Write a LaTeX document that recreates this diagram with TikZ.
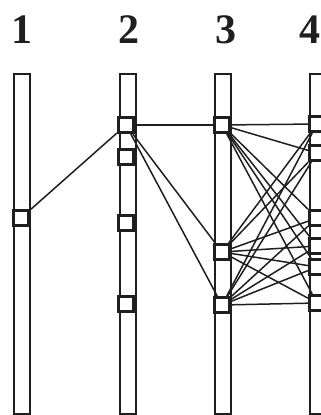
\documentclass[tikz,border=0pt]{standalone}
\usepackage{fontspec}
\setmainfont{Liberation Serif}
\begin{document}
\begin{tikzpicture}[x=1pt,y=-1pt,
  bar/.style={draw=black!88, line width=2pt, fill=white, minimum width=16pt, minimum height=340pt, inner sep=0pt},
  sq/.style={draw=black!88, line width=3.2pt, fill=white, minimum size=15pt, inner sep=0pt},
  lab/.style={font=\fontsize{42}{42}\selectfont\bfseries, text=black!88, inner sep=0pt},
  link/.style={draw=black!88, line width=1.5pt}]
\useasboundingbox (0,0) rectangle (321,415);
\clip (0,0) rectangle (321,415);
% labels
\node[lab] (l1) at (22,30) {1};
\node[lab] (l2) at (129,30) {2};
\node[lab] (l3) at (226,30) {3};
\node[lab] (l4) at (310,30) {4};
% bars
\node[bar] (b1) at (22,244) {};
\node[bar] (b2) at (128,244) {};
\node[bar] (b3) at (223,244) {};
\node[bar] (b4) at (318,244) {};
% squares
\node[sq] (a1) at (21,218) {};
\node[sq] (c1) at (126,125) {};
\node[sq] (c2) at (126,157) {};
\node[sq] (c3) at (126,223) {};
\node[sq] (c4) at (126,304) {};
\node[sq] (d1) at (222,125) {};
\node[sq] (d2) at (222,252) {};
\node[sq] (d3) at (222,305) {};
\node[sq] (e1) at (317,124) {};
\node[sq] (e2) at (317,153) {};
\node[sq] (e3) at (317,218) {};
\node[sq] (e4) at (317,246) {};
\node[sq] (e5) at (317,267) {};
\node[sq] (e6) at (317,303) {};
% connectors
\draw[link] (a1) -- (c1);
\draw[link] (c1) -- (d1);
\draw[link] (c1) -- (d2);
\draw[link] (c1) -- (d3);
\foreach \d in {d1,d2,d3}
  \foreach \e in {e1,e2,e3,e4,e5,e6}
    \draw[link] (\d) -- (\e);
\end{tikzpicture}
\end{document}
